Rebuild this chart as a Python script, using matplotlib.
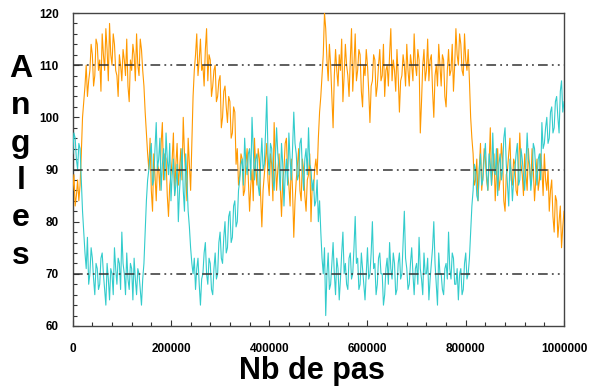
import matplotlib
matplotlib.use("Agg")
import matplotlib.pyplot as plt
from matplotlib import font_manager
from matplotlib.ticker import MultipleLocator
import numpy as np

step_size = 2500
orange_vals = [
    86, 89, 83, 85, 88, 84, 87, 93, 100, 103, 106, 110, 104, 107, 109, 114, 112, 106, 108, 115,
    114, 109, 111, 105, 116, 112, 109, 117, 113, 107, 118, 112, 110, 116, 114, 109, 108, 104, 112, 110,
    107, 113, 111, 108, 115, 106, 103, 111, 109, 114, 112, 107, 116, 110, 108, 115, 113, 109, 106, 101,
    97, 93, 90, 96, 86, 82, 93, 89, 84, 91, 90, 86, 95, 99, 88, 93, 92, 85, 81, 87,
    89, 92, 97, 85, 91, 95, 87, 90, 94, 88, 100, 93, 89, 84, 96, 91, 86, 95, 104, 109,
    112, 116, 108, 111, 115, 109, 110, 106, 113, 117, 107, 112, 111, 104, 106, 109, 110, 103, 104, 107,
    108, 98, 100, 105, 106, 102, 99, 104, 103, 96, 97, 102, 101, 91, 94, 87, 89, 93, 92, 85,
    86, 91, 94, 88, 82, 87, 90, 84, 96, 90, 87, 94, 92, 85, 79, 86, 89, 92, 95, 88,
    85, 93, 91, 84, 99, 92, 86, 90, 93, 87, 81, 88, 90, 95, 96, 89, 87, 83, 92, 86,
    77, 84, 88, 91, 94, 86, 84, 92, 90, 85, 82, 88, 89, 93, 80, 87, 86, 90, 92, 89,
    96, 101, 104, 108, 112, 120, 117, 111, 107, 114, 110, 104, 98, 108, 113, 109, 106, 112, 109, 115,
    103, 108, 114, 110, 108, 104, 111, 117, 105, 110, 116, 107, 109, 113, 112, 105, 102, 110, 108, 113,
    110, 105, 99, 106, 107, 112, 111, 104, 106, 110, 113, 107, 108, 114, 104, 109, 110, 106, 112, 117,
    107, 111, 109, 105, 113, 108, 101, 107, 108, 112, 110, 106, 114, 109, 106, 112, 110, 107, 116, 110,
    108, 113, 111, 97, 103, 110, 113, 107, 109, 115, 107, 111, 112, 105, 100, 108, 110, 106, 114, 110,
    106, 112, 111, 104, 102, 109, 113, 108, 109, 114, 105, 110, 117, 112, 110, 116, 114, 109, 108, 116,
    111, 109, 113, 107, 100, 96, 93, 87, 88, 92, 84, 90, 95, 86, 89, 94, 92, 88, 86, 91,
    98, 87, 90, 93, 84, 89, 94, 86, 88, 95, 92, 84, 82, 89, 90, 93, 96, 88, 87, 92,
    91, 86, 85, 90, 97, 91, 89, 85, 93, 89, 86, 94, 90, 87, 94, 90, 84, 88, 92, 86,
    88, 93, 90, 85, 93, 88, 86, 90, 82, 86, 88, 81, 78, 85, 84, 77, 80, 83, 75, 79,
    82,
]
cyan_vals = [
    93, 97, 96, 92, 90, 95, 94, 88, 82, 78, 74, 71, 77, 68, 70, 75, 73, 69, 66, 72,
    71, 67, 68, 73, 74, 70, 67, 64, 72, 69, 65, 71, 70, 66, 75, 71, 68, 73, 72, 67,
    78, 72, 70, 66, 74, 69, 67, 72, 71, 65, 73, 69, 66, 71, 70, 67, 64, 69, 72, 78,
    84, 88, 90, 93, 95, 87, 88, 94, 99, 90, 92, 96, 86, 91, 94, 88, 97, 92, 89, 95,
    84, 89, 92, 85, 87, 91, 80, 86, 90, 94, 86, 82, 93, 88, 82, 79, 75, 72, 70, 73,
    67, 71, 73, 68, 64, 69, 70, 74, 76, 70, 68, 73, 72, 67, 66, 71, 74, 69, 70, 76,
    78, 73, 72, 77, 80, 74, 75, 81, 82, 76, 77, 83, 84, 79, 80, 86, 88, 91, 92, 87,
    96, 91, 89, 93, 94, 88, 100, 94, 88, 92, 93, 87, 85, 91, 96, 90, 91, 97, 104, 93,
    89, 95, 94, 88, 86, 92, 98, 93, 90, 86, 95, 91, 83, 89, 92, 87, 97, 92, 88, 94,
    101, 95, 93, 88, 89, 95, 96, 90, 86, 92, 94, 89, 98, 91, 90, 86, 88, 83, 84, 88,
    80, 84, 78, 73, 70, 75, 62, 70, 74, 67, 68, 72, 76, 70, 66, 73, 71, 65, 69, 74,
    78, 70, 72, 68, 67, 73, 74, 69, 70, 75, 81, 72, 73, 67, 68, 74, 71, 68, 65, 70,
    75, 69, 70, 74, 80, 71, 72, 66, 68, 73, 74, 70, 70, 64, 66, 71, 73, 68, 76, 71,
    69, 74, 72, 66, 67, 72, 74, 69, 70, 76, 82, 73, 71, 67, 68, 72, 75, 70, 66, 71,
    72, 68, 77, 71, 69, 66, 74, 70, 70, 73, 65, 69, 72, 75, 80, 72, 68, 64, 74, 70,
    70, 67, 66, 71, 72, 69, 78, 71, 69, 74, 73, 68, 68, 71, 65, 70, 71, 66, 67, 72,
    74, 69, 70, 73, 78, 83, 86, 91, 90, 85, 84, 90, 93, 87, 88, 92, 95, 89, 86, 93,
    91, 87, 97, 90, 89, 94, 85, 91, 93, 88, 90, 96, 98, 91, 87, 83, 92, 89, 84, 88,
    90, 93, 95, 87, 88, 94, 92, 89, 86, 91, 97, 92, 91, 86, 89, 95, 94, 90, 87, 92,
    93, 88, 99, 94, 95, 98, 100, 95, 96, 101, 102, 97, 98, 103, 104, 100, 97, 105, 107, 101,
    103,
]
ref_levels = [70, 90, 110]
x_ticks = [0, 200000, 400000, 600000, 800000, 1000000]
y_ticks = [60, 70, 80, 90, 100, 110, 120]
x_label = "Nb de pas"
y_label = "Angles"

assert len(orange_vals) == 401, len(orange_vals)
assert len(cyan_vals) == 401, len(cyan_vals)
steps = np.arange(len(orange_vals)) * step_size

names = {f.name for f in font_manager.fontManager.ttflist}
base_font = "Liberation Sans" if "Liberation Sans" in names else "DejaVu Sans"
narrow_font = "Liberation Sans Narrow" if "Liberation Sans Narrow" in names else base_font

plt.rcParams["font.family"] = [base_font, "DejaVu Sans"]
plt.rcParams["lines.scale_dashes"] = False

fig = plt.figure(figsize=(5.94, 3.91), dpi=100)
ax = fig.add_axes([72.7 / 594, 1 - 326 / 391, (564 - 72.7) / 594, (326 - 13) / 391])

ax.plot(steps, orange_vals, color="#FF9900", lw=0.8, zorder=3)
ax.plot(steps, cyan_vals, color="#33CCCC", lw=0.8, zorder=3)

for lvl in ref_levels:
    ax.axhline(lvl, color="#333333", lw=1.1, dashes=(7, 3, 1.3, 3, 1.3, 3), zorder=4)

ax.set_xlim(0, 1000000)
ax.set_ylim(60, 120)
ax.set_xticks(x_ticks)
ax.set_yticks(y_ticks)
ax.set_xticklabels([str(t) for t in x_ticks])
ax.set_yticklabels([str(t) for t in y_ticks])
ax.xaxis.set_minor_locator(MultipleLocator(40000))
ax.yaxis.set_minor_locator(MultipleLocator(2))
ax.tick_params(which="both", direction="in", top=False, right=False, colors="#333333",
               labelcolor="black", width=0.8)
ax.tick_params(which="major", length=4)
ax.tick_params(which="minor", length=3)
ax.tick_params(axis="y", pad=10)
ax.tick_params(axis="x", pad=12)
for lab in ax.get_xticklabels() + ax.get_yticklabels():
    lab.set_fontsize(8.5)
    lab.set_fontweight("bold")
for sp in ax.spines.values():
    sp.set_color("#444444")
    sp.set_linewidth(1.0)

fig.text(312 / 594, 1 - 379 / 391, x_label, ha="center", va="baseline",
         fontsize=22, fontweight="bold", family=[narrow_font, "DejaVu Sans"])
fig.text(21 / 594, 1 - 54 / 391, "\n".join(y_label), ha="center", va="top",
         fontsize=23, fontweight="bold", linespacing=1.32, multialignment="center")

fig.savefig("out.png", dpi=100, facecolor="white")
